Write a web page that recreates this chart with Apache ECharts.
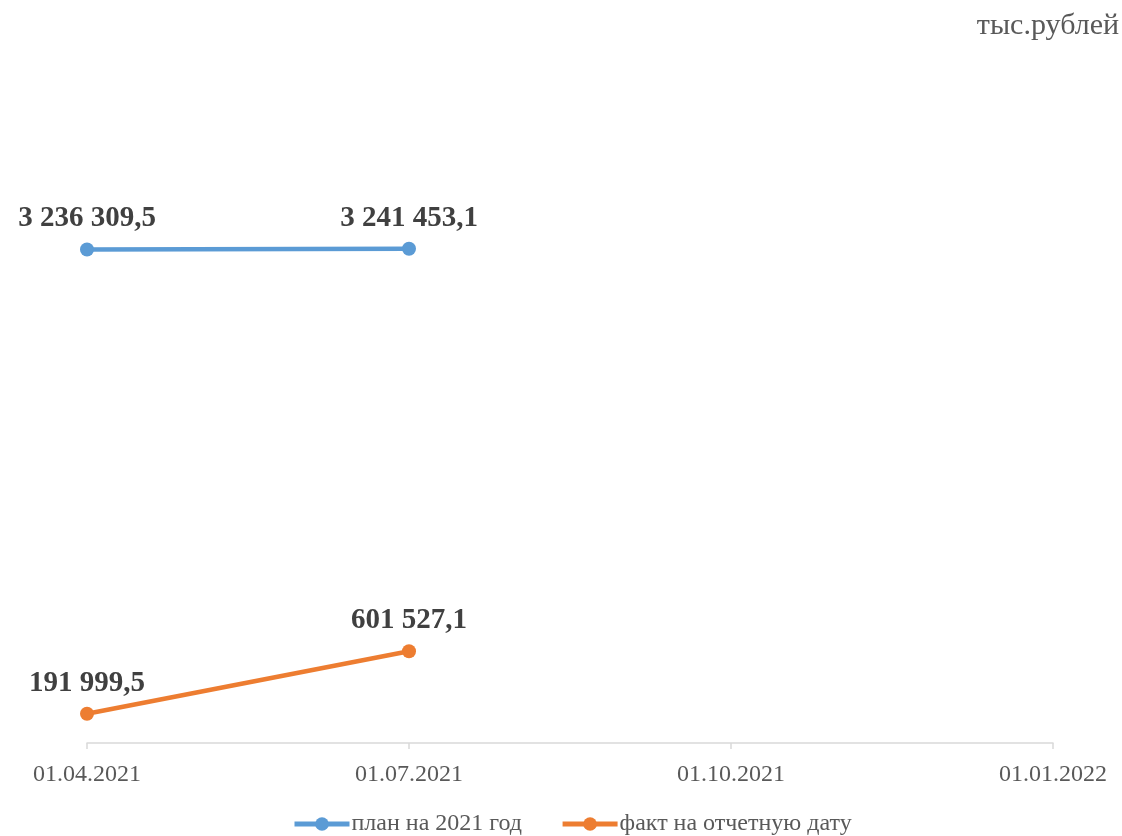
<!DOCTYPE html>
<html>
<head>
<meta charset="utf-8">
<script src="https://cdn.jsdelivr.net/npm/echarts@6/dist/echarts.min.js"></script>
<style>
html,body{margin:0;padding:0;background:#fff;}
#chart{width:1122px;height:836px;}
</style>
</head>
<body>
<div id="chart"></div>
<script>
var categories = ['01.04.2021', '01.07.2021', '01.10.2021', '01.01.2022'];
var planValues = [3236309.5, 3241453.1, null, null];
var factValues = [191999.5, 601527.1, null, null];
var seriesNames = ['план на 2021 год', 'факт на отчетную дату'];
var unitLabel = 'тыс.рублей';

function fmt(v) {
  var parts = v.toFixed(1).split('.');
  var intPart = parts[0].replace(/\B(?=(\d{3})+(?!\d))/g, ' ');
  return intPart + ',' + parts[1];
}

var FONT = '"Liberation Serif", "Times New Roman", serif';
var chart = echarts.init(document.getElementById('chart'));
var labelCfg = {
  show: true,
  position: 'top',
  distance: 9,
  fontFamily: FONT,
  fontSize: 29,
  fontWeight: 'bold',
  color: '#404040',
  formatter: function (p) { return fmt(p.value); }
};
chart.setOption({
  animation: false,
  backgroundColor: '#fff',
  title: {
    text: unitLabel,
    right: 3,
    top: 11,
    padding: 0,
    textStyle: { fontFamily: FONT, fontSize: 30, fontWeight: 'normal', color: '#595959' }
  },
  legend: {
    bottom: -5,
    left: 287,
    itemWidth: 55,
    itemHeight: 17,
    itemGap: 38,
    lineStyle: { width: 5 },
    textStyle: { fontFamily: FONT, fontSize: 24, color: '#595959', padding: [0, 0, 0, -3] },
    data: seriesNames
  },
  grid: { left: 87, right: 69, top: 133, bottom: 93 },
  xAxis: {
    type: 'category',
    boundaryGap: false,
    data: categories,
    axisLine: { lineStyle: { color: '#d9d9d9', width: 1.5 } },
    axisTick: { show: true, inside: false, length: 6, lineStyle: { color: '#d9d9d9', width: 1.5 } },
    axisLabel: { fontFamily: FONT, fontSize: 24, color: '#595959', margin: 20 }
  },
  yAxis: {
    type: 'value',
    min: 0,
    max: 4000000,
    show: false,
    splitLine: { show: false }
  },
  series: [
    {
      name: seriesNames[0],
      type: 'line',
      data: planValues,
      symbol: 'circle',
      symbolSize: 14,
      itemStyle: { color: '#5b9bd5' },
      lineStyle: { color: '#5b9bd5', width: 4.5 },
      label: labelCfg
    },
    {
      name: seriesNames[1],
      type: 'line',
      data: factValues,
      symbol: 'circle',
      symbolSize: 14,
      itemStyle: { color: '#ed7d31' },
      lineStyle: { color: '#ed7d31', width: 4.5 },
      label: labelCfg
    }
  ]
});
</script>
</body>
</html>
